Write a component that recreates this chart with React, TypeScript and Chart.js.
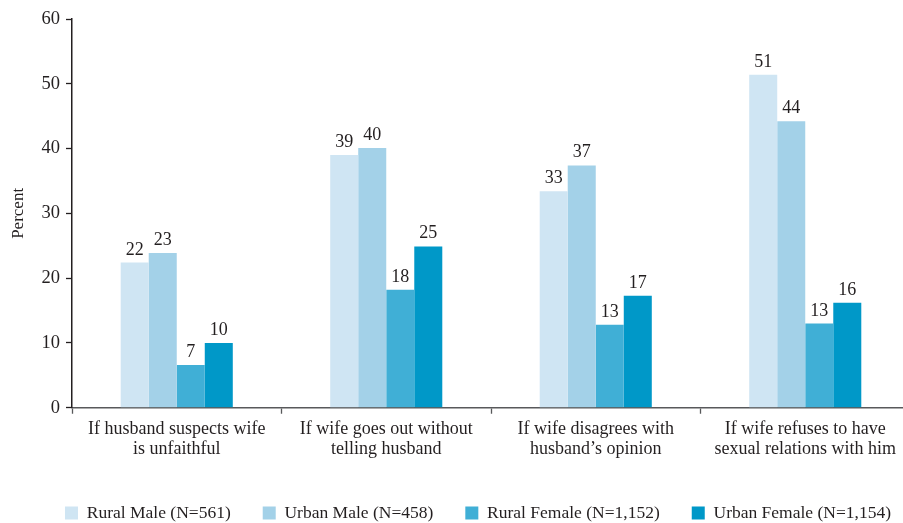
import React, { useEffect, useRef } from "react";
import { Chart, registerables } from "chart.js";

Chart.register(...registerables);

const categories: string[][] = [
  ["If husband suspects wife", "is unfaithful"],
  ["If wife goes out without", "telling husband"],
  ["If wife disagrees with", "husband\u2019s opinion"],
  ["If wife refuses to have", "sexual relations with him"],
];

const seriesNames = [
  "Rural Male (N=561)",
  "Urban Male (N=458)",
  "Rural Female (N=1,152)",
  "Urban Female (N=1,154)",
];

// bar heights
const ruralMale = [22.4, 39.0, 33.4, 51.4];
const urbanMale = [23.9, 40.1, 37.4, 44.2];
const ruralFemale = [6.6, 18.2, 12.8, 13.0];
const urbanFemale = [10.0, 24.9, 17.3, 16.2];

// printed value labels
const ruralMaleLabels = ["22", "39", "33", "51"];
const urbanMaleLabels = ["23", "40", "37", "44"];
const ruralFemaleLabels = ["7", "18", "13", "13"];
const urbanFemaleLabels = ["10", "25", "17", "16"];

const colors = ["#cfe5f3", "#a3d1e8", "#40afd6", "#0098c8"];

const yTicks = [0, 10, 20, 30, 40, 50, 60];

const FONT = '"Liberation Serif", "Times New Roman", serif';
const TEXT = "#231f20";

const valueLabels = {
  id: "valueLabels",
  afterDatasetsDraw(chart: any) {
    const ctx = chart.ctx;
    ctx.save();
    ctx.font = `18px ${FONT}`;
    ctx.fillStyle = TEXT;
    ctx.textAlign = "center";
    ctx.textBaseline = "alphabetic";
    chart.data.datasets.forEach((ds: any, i: number) => {
      const meta = chart.getDatasetMeta(i);
      meta.data.forEach((bar: any, j: number) => {
        const lbl = ds.valueLabels[j];
        ctx.fillText(lbl, bar.x, bar.y - 8);
      });
    });
    ctx.restore();
  },
};

const legendShift = {
  id: "legendShift",
  afterLayout(chart: any) {
    const l = chart.legend;
    if (l) {
      l.left += 21;
      l.right += 21;
    }
  },
};

export default function App() {
  const ref = useRef<HTMLCanvasElement | null>(null);

  useEffect(() => {
    if (!ref.current) return;
    const data = [ruralMale, urbanMale, ruralFemale, urbanFemale];
    const labels = [ruralMaleLabels, urbanMaleLabels, ruralFemaleLabels, urbanFemaleLabels];
    const chart = new Chart(ref.current, {
      type: "bar",
      data: {
        labels: categories,
        datasets: data.map((d, i) => ({
          label: seriesNames[i],
          data: d,
          backgroundColor: colors[i],
          borderWidth: 0,
          barPercentage: 1,
          categoryPercentage: 0.535,
          valueLabels: labels[i],
        })) as any,
      },
      options: {
        animation: false,
        responsive: false,
        layout: { padding: { left: 4, top: 19, right: 0, bottom: 0 } },
        plugins: {
          tooltip: { enabled: false },
          legend: {
            position: "bottom",
            maxHeight: 50.75,
            labels: {
              boxWidth: 13,
              boxHeight: 13,
              padding: 32,
              color: TEXT,
              font: { family: FONT, size: 17.5 },
            },
          } as any,
        },
        scales: {
          x: {
            grid: {
              offset: true,
              drawOnChartArea: false,
              drawTicks: true,
              tickLength: 6,
              tickColor: "#58595b",
              tickWidth: 1.3,
            },
            border: { display: true, color: "#58595b", width: 1.5 },
            ticks: {
              color: TEXT,
              padding: 5.4,
              maxRotation: 0,
              autoSkip: false,
              font: { family: FONT, size: 18, lineHeight: 1.1 },
            },
            afterFit: (scale: any) => {
              scale.height = 64.5;
            },
          },
          y: {
            min: 0,
            max: 60,
            afterBuildTicks: (scale: any) => {
              scale.ticks = yTicks.map((v) => ({ value: v }));
            },
            grid: {
              drawOnChartArea: false,
              drawTicks: true,
              tickLength: 6,
              tickColor: TEXT,
              tickWidth: 1.3,
            },
            border: { display: true, color: TEXT, width: 1.5 },
            ticks: {
              color: TEXT,
              padding: 6,
              font: { family: FONT, size: 18.5 },
            },
            title: {
              display: true,
              text: "Percent",
              color: TEXT,
              font: { family: FONT, size: 17 },
              padding: { top: 4, bottom: 4 },
            },
            afterFit: (scale: any) => {
              scale.width = 68;
            },
          },
        },
      },
      plugins: [valueLabels, legendShift],
    });
    return () => chart.destroy();
  }, []);

  return (
    <div style={{ position: "fixed", left: 0, top: 0, width: 910, height: 523, overflow: "hidden" }}>
      <canvas ref={ref} width={910} height={523} style={{ display: "block" }} />
    </div>
  );
}
